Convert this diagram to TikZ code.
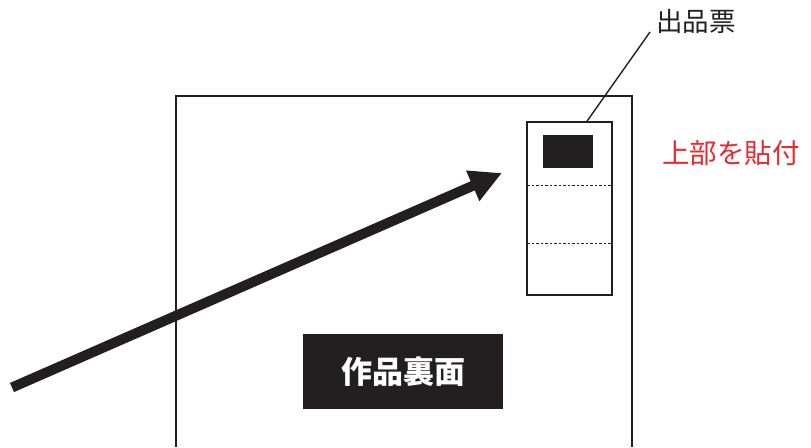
\documentclass[tikz,border=0pt]{standalone}
\usepackage{fontspec}
\newfontfamily\jpfont{Noto Sans CJK JP}
\usetikzlibrary{arrows.meta}
\definecolor{ink}{RGB}{35,31,32}
\definecolor{redtxt}{RGB}{232,40,45}
\tikzset{>=stealth}
\tikzset{frame/.style={draw=ink, line width=1.6pt},
  leader/.style={draw=ink, line width=1.4pt},
  perf/.style={draw=ink, line width=0.7pt, dash pattern=on 2.5pt off 2pt}}

\begin{document}
\begin{tikzpicture}[x=1pt, y=-1pt, font=\jpfont]
\useasboundingbox (0,0) rectangle (811,447);
% work back
\draw[frame] (176,447) -- (176,96) -- (632,96) -- (632,447);
% ticket
\node[frame, rectangle, minimum width=85pt, minimum height=173pt, inner sep=0] (ticket) at (569.5,208.5) {};
\node[fill=ink, minimum width=50pt, minimum height=33pt, inner sep=0] (stamp) at (568,151.5) {};
\draw[perf] (527,185) -- (612,185);
\draw[perf] (527,243) -- (612,243);
\coordinate (leadend) at (650,32);
\node at (656,22) [anchor=west, inner sep=0, text=ink, font=\jpfont\fontsize{26.5}{26.5}\selectfont] (tlabel) {出品票};
\draw[leader] ([xshift=17.5pt]ticket.north) -- (leadend);
\node at (662,153) [anchor=west, inner sep=0, text=redtxt, font=\jpfont\fontsize{27.5}{27.5}\selectfont] (paste) {上部を貼付};
% back label
\node[fill=ink, text=white, minimum width=200pt, minimum height=75pt, inner sep=0, font=\jpfont\bfseries\fontsize{31}{31}\selectfont] (back) at (403,371.5) {作品裏面};
% arrow
\coordinate (tail) at (12,387.5);
\coordinate (tip) at (502,173);
\draw[draw=ink, line width=10pt, -{Triangle[length=32pt, width=31pt, fill=ink]}] (tail) -- (tip);
\end{tikzpicture}
\end{document}
